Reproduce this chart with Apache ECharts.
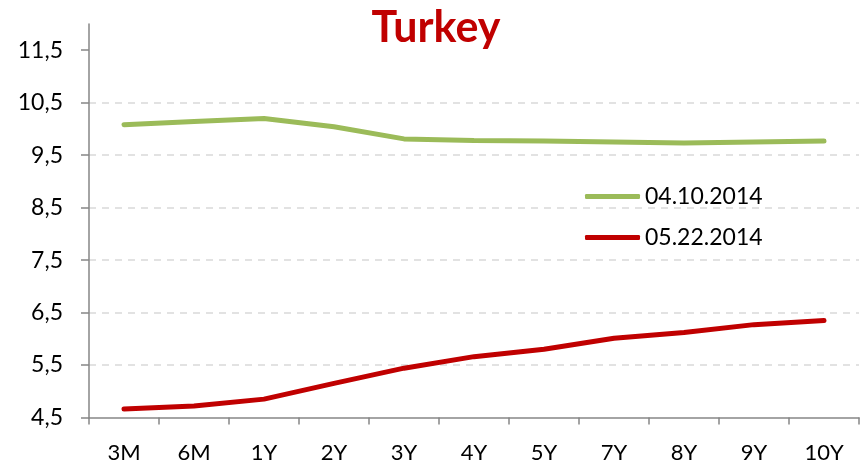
<!DOCTYPE html>
<html><head><meta charset="utf-8">
<script src="https://cdn.jsdelivr.net/npm/echarts@6/dist/echarts.min.js"></script>
<style>html,body{margin:0;padding:0;background:#fff}#c{width:868px;height:465px}</style>
</head><body><div id="c"></div>
<script>
const categories = ['3M','6M','1Y','2Y','3Y','4Y','5Y','7Y','8Y','9Y','10Y'];
const seriesApr = [10.08,10.14,10.20,10.04,9.81,9.78,9.77,9.75,9.73,9.75,9.77];
const seriesMay = [4.66,4.72,4.85,5.15,5.44,5.66,5.80,6.01,6.12,6.27,6.35];
const seriesNames = ['04.10.2014','05.22.2014'];
const yTicks = [4.5,5.5,6.5,7.5,8.5,9.5,10.5,11.5];
const titleText = 'Turkey';

const font = 'Lato, "Open Sans", sans-serif';
const chart = echarts.init(document.getElementById('c'), null, {renderer:'canvas'});
chart.setOption({
  animation:false,
  title:{text:titleText,left:431,textAlign:'center',top:2,
    textStyle:{color:'#C00000',fontSize:43,fontWeight:'bold',fontFamily:font}},
  legend:{orient:'vertical',left:585,top:185,padding:0,itemWidth:55,itemHeight:5,itemGap:18,icon:'roundRect',
    textStyle:{fontSize:23,color:'#000',fontFamily:font},
    data:seriesNames},
  grid:{left:89,right:9,top:24,bottom:47.5},
  xAxis:{type:'category',data:categories,boundaryGap:true,
    axisLine:{lineStyle:{color:'#868686',width:1.5}},
    axisTick:{show:true,length:7,lineStyle:{color:'#868686',width:1.5}},
    axisLabel:{color:'#000',fontSize:22,fontFamily:font,margin:24}},
  yAxis:{type:'value',min:4.5,max:12,interval:1,
    axisLine:{show:true,lineStyle:{color:'#868686',width:1.5}},
    axisTick:{show:true,length:8,customValues:yTicks,lineStyle:{color:'#868686',width:1.5}},
    axisLabel:{color:'#000',fontSize:23,fontFamily:font,margin:26,customValues:yTicks,
      formatter:v=>v.toFixed(1).replace('.',',')},
    splitLine:{show:true,showMinLine:false,showMaxLine:false,lineStyle:{color:'#D9D9D9',type:[7,6],width:1.5}}},
  series:[
    {name:seriesNames[0],type:'line',data:seriesApr,symbol:'none',
      lineStyle:{color:'#9BBB59',width:5,cap:'round'},itemStyle:{color:'#9BBB59'}},
    {name:seriesNames[1],type:'line',data:seriesMay,symbol:'none',
      lineStyle:{color:'#C00000',width:5,cap:'round'},itemStyle:{color:'#C00000'}}
  ]
});
</script></body></html>
